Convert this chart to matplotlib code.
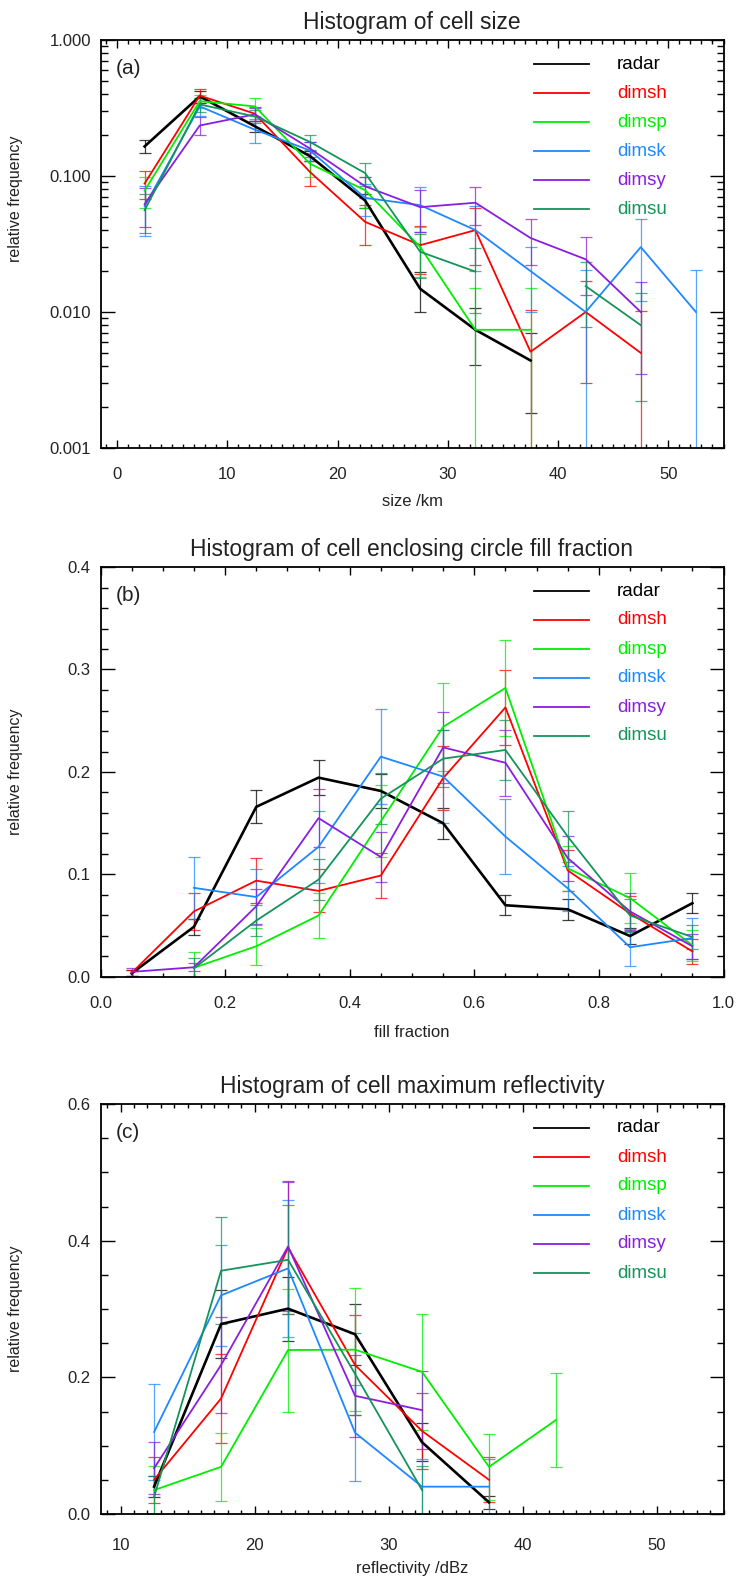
import numpy as np
import matplotlib
matplotlib.use('Agg')
import matplotlib.pyplot as plt
from matplotlib.ticker import MultipleLocator, FixedLocator, FormatStrFormatter, LogLocator, NullFormatter

plt.rcParams['font.family'] = ['Liberation Sans', 'DejaVu Sans']

nan = np.nan
names = ['radar', 'dimsh', 'dimsp', 'dimsk', 'dimsy', 'dimsu']
colors = ['#000000', '#ff0000', '#00ee00', '#1e88ff', '#8a1ee0', '#14945a']

# (a) cell size
size_bins = [2.5, 7.5, 12.5, 17.5, 22.5, 27.5, 32.5, 37.5, 42.5, 47.5, 52.5]
size_vals = [
    [0.165, 0.385, 0.232, 0.140, 0.066, 0.0148, 0.0074, 0.0044, nan, nan, nan],
    [0.088, 0.390, 0.287, 0.107, 0.046, 0.031, 0.040, 0.0051, 0.010, 0.005, nan],
    [0.078, 0.355, 0.325, 0.123, 0.0786, 0.030, 0.0074, 0.0074, nan, nan, nan],
    [0.060, 0.325, 0.219, 0.154, 0.069, 0.061, 0.040, 0.020, 0.010, 0.030, 0.010],
    [0.062, 0.235, 0.284, 0.159, 0.084, 0.059, 0.0636, 0.035, 0.0244, 0.010, nan],
    [0.056, 0.336, 0.274, 0.178, 0.105, 0.0277, 0.0198, nan, 0.0155, 0.008, nan],
]
size_errs = [
    [0.018, 0.04, 0.02, 0.012, 0.008, 0.0048, 0.0033, 0.0026, nan, nan, nan],
    [0.02, 0.045, 0.035, 0.022, 0.015, 0.012, 0.018, 0.0052, 0.007, 0.0052, nan],
    [0.02, 0.04, 0.048, 0.025, 0.02, 0.012, 0.0076, 0.0076, nan, nan, nan],
    [0.024, 0.05, 0.045, 0.025, 0.018, 0.022, 0.02, 0.01, 0.0102, 0.018, 0.0102],
    [0.02, 0.035, 0.03, 0.02, 0.015, 0.02, 0.02, 0.013, 0.011, 0.0065, nan],
    [0.018, 0.04, 0.03, 0.022, 0.02, 0.01, 0.01, nan, 0.0078, 0.0058, nan],
]

# (b) enclosing circle fill fraction
fill_bins = [0.05, 0.15, 0.25, 0.35, 0.45, 0.55, 0.65, 0.75, 0.85, 0.95]
fill_vals = [
    [0.0035, 0.049, 0.166, 0.1945, 0.1815, 0.150, 0.070, 0.066, 0.040, 0.072],
    [0.004, 0.064, 0.094, 0.084, 0.099, 0.194, 0.263, 0.104, 0.062, 0.025],
    [nan, 0.009, 0.030, 0.060, 0.152, 0.244, 0.282, 0.106, 0.077, 0.031],
    [nan, 0.087, 0.078, 0.127, 0.215, 0.1955, 0.137, 0.0865, 0.029, 0.038],
    [0.005, 0.0095, 0.069, 0.155, 0.117, 0.224, 0.209, 0.116, 0.064, 0.030],
    [nan, 0.0085, 0.055, 0.095, 0.174, 0.213, 0.2215, 0.137, 0.060, 0.039],
]
fill_errs = [
    [0.003, 0.008, 0.016, 0.017, 0.017, 0.015, 0.010, 0.010, 0.008, 0.010],
    [0.003, 0.018, 0.022, 0.021, 0.022, 0.031, 0.037, 0.02, 0.017, 0.012],
    [nan, 0.015, 0.018, 0.022, 0.035, 0.043, 0.047, 0.022, 0.024, 0.015],
    [nan, 0.03, 0.027, 0.035, 0.046, 0.045, 0.037, 0.022, 0.018, 0.02],
    [0.004, 0.004, 0.017, 0.028, 0.024, 0.035, 0.032, 0.022, 0.018, 0.012],
    [nan, 0.01, 0.015, 0.02, 0.025, 0.028, 0.029, 0.025, 0.016, 0.012],
]

# (c) max reflectivity
refl_bins = [12.5, 17.5, 22.5, 27.5, 32.5, 37.5, 42.5]
refl_vals = [
    [0.040, 0.278, 0.3005, 0.263, 0.105, 0.017, nan],
    [0.050, 0.169, 0.390, 0.218, 0.1215, 0.050, nan],
    [0.035, 0.069, 0.240, 0.2405, 0.208, 0.069, 0.1376],
    [0.120, 0.320, 0.3595, 0.119, 0.040, 0.040, nan],
    [0.067, 0.218, 0.3915, 0.173, 0.152, nan, nan],
    [0.025, 0.356, 0.372, 0.205, 0.035, nan, nan],
]
refl_errs = [
    [0.015, 0.05, 0.047, 0.045, 0.028, 0.01, nan],
    [0.034, 0.065, 0.097, 0.073, 0.055, 0.033, nan],
    [0.035, 0.05, 0.09, 0.09, 0.085, 0.048, 0.069],
    [0.07, 0.074, 0.1, 0.07, 0.04, 0.04, nan],
    [0.038, 0.07, 0.095, 0.06, 0.057, nan, nan],
    [0.03, 0.078, 0.08, 0.06, 0.035, nan, nan],
]

W, H = 743, 1581
fig = plt.figure(figsize=(W / 100, H / 100), dpi=100)


def make_axes(left, top, right, bottom):
    return fig.add_axes([left / W, 1 - bottom / H, (right - left) / W, (bottom - top) / H])


def draw(ax, x, vals, errs):
    for i in range(len(names)):
        y = np.array(vals[i])
        e = np.array(errs[i])
        ax.errorbar(x, y, yerr=e, fmt='none', ecolor=colors[i], elinewidth=0.9,
                    capsize=4, capthick=0.9, alpha=0.75, zorder=2)
    for i in range(len(names)):
        ax.plot(x, vals[i], color=colors[i], lw=1.9 if i == 0 else 1.3, zorder=3)


def style(ax, title, xlabel, letter, ylab_y, xpad, xlpad):
    ax.tick_params(which='both', direction='in', top=True, right=True, labelsize=12,
                   width=1, labelcolor='#222222')
    ax.tick_params(axis='x', which='major', length=6, pad=xpad)
    ax.tick_params(axis='x', which='minor', length=3)
    ax.tick_params(axis='y', which='major', length=10, pad=7)
    ax.tick_params(axis='y', which='minor', length=5)
    for s in ax.spines.values():
        s.set_linewidth(1.3)
    ax.set_title(title, fontsize=16.5, pad=8, color='#222222')
    ax.set_xlabel(xlabel, fontsize=12, labelpad=xlpad, color='#222222')
    ax.set_ylabel('relative frequency', fontsize=11.5, color='#222222')
    ax.yaxis.set_label_coords(-0.124, ylab_y)
    ax.text(0.025, 0.93, letter, transform=ax.transAxes, fontsize=15, va='center',
            color='#222222')
    hpx = ax.get_position().height * H
    for i in range(len(names)):
        yy = 1 - (24 + 29 * i) / hpx
        ax.plot([0.696, 0.784], [yy, yy], transform=ax.transAxes, color=colors[i], lw=1.3)
        ax.text(0.829, yy, names[i], transform=ax.transAxes, color=colors[i],
                fontsize=13.5, va='center')


# panel (a)
ax1 = make_axes(100.5, 40, 723.5, 448)
draw(ax1, size_bins, size_vals, size_errs)
ax1.set_yscale('log')
ax1.set_ylim(0.001, 1)
ax1.set_xlim(-1.5, 55)
ax1.yaxis.set_major_locator(FixedLocator([0.001, 0.01, 0.1, 1]))
ax1.yaxis.set_major_formatter(FormatStrFormatter('%.3f'))
ax1.yaxis.set_minor_locator(LogLocator(base=10, subs=np.arange(2, 10)))
ax1.yaxis.set_minor_formatter(NullFormatter())
ax1.xaxis.set_major_locator(MultipleLocator(10))
ax1.xaxis.set_minor_locator(MultipleLocator(1))
style(ax1, 'Histogram of cell size', 'size /km', '(a)', 0.61, 13.5, 9)

# panel (b)
ax2 = make_axes(100.5, 567, 723.5, 977)
draw(ax2, fill_bins, fill_vals, fill_errs)
ax2.set_ylim(0, 0.4)
ax2.set_xlim(0, 1)
ax2.yaxis.set_major_locator(MultipleLocator(0.1))
ax2.yaxis.set_minor_locator(MultipleLocator(0.02))
ax2.yaxis.set_major_formatter(FormatStrFormatter('%.1f'))
ax2.xaxis.set_major_locator(MultipleLocator(0.2))
ax2.xaxis.set_minor_locator(MultipleLocator(0.05))
ax2.xaxis.set_major_formatter(FormatStrFormatter('%.1f'))
style(ax2, 'Histogram of cell enclosing circle fill fraction', 'fill fraction', '(b)', 0.5, 13.5, 10)

# panel (c)
ax3 = make_axes(100.5, 1104, 723.5, 1514)
draw(ax3, refl_bins, refl_vals, refl_errs)
ax3.set_ylim(0, 0.6)
ax3.set_xlim(8.5, 55)
ax3.yaxis.set_major_locator(MultipleLocator(0.2))
ax3.yaxis.set_minor_locator(MultipleLocator(0.05))
ax3.yaxis.set_major_formatter(FormatStrFormatter('%.1f'))
ax3.xaxis.set_major_locator(MultipleLocator(10))
ax3.xaxis.set_minor_locator(MultipleLocator(1))
style(ax3, 'Histogram of cell maximum reflectivity', 'reflectivity /dBz', '(c)', 0.5, 17, 6)

fig.savefig('out.png', dpi=100)
